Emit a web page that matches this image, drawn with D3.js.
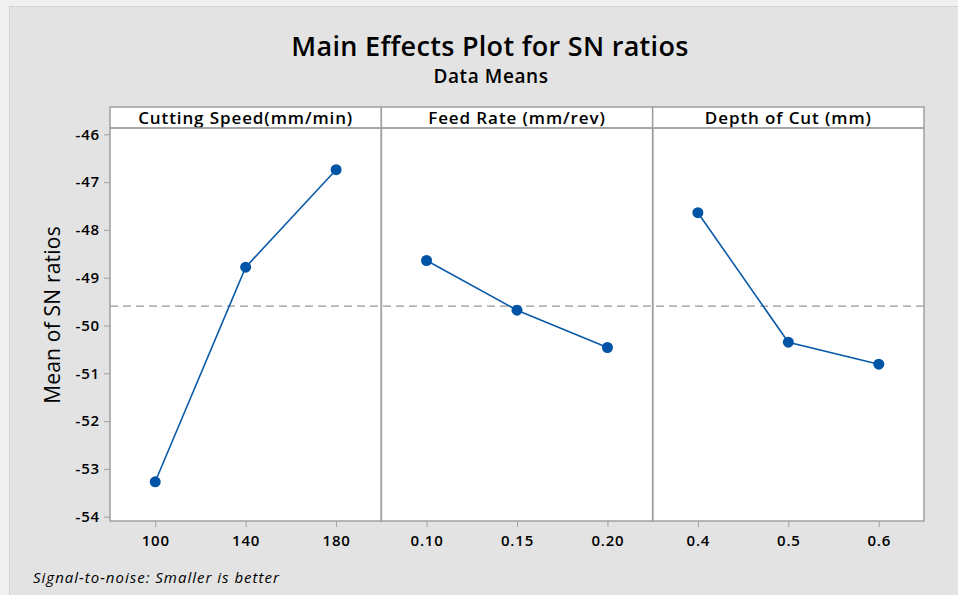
<!DOCTYPE html>
<html>
<head>
<meta charset="utf-8">
<script src="https://cdn.jsdelivr.net/npm/d3@7"></script>
<style>
  body { margin: 0; background: #f0f0f0; }
  text { font-family: "Open Sans", "DejaVu Sans", sans-serif; fill: #000; }
</style>
</head>
<body>
<div id="chart"></div>
<script>
const width = 958;
const height = 595;

// factors and their levels
const factors = ["Cutting Speed(mm/min)", "Feed Rate (mm/rev)", "Depth of Cut (mm)"];
const levels = [
  ["100", "140", "180"],
  ["0.10", "0.15", "0.20"],
  ["0.4", "0.5", "0.6"]
];
// mean SN ratio at each level
const snMeans = [
  [-53.27, -48.78, -46.74],
  [-48.64, -49.68, -50.46],
  [-47.64, -50.35, -50.81]
];
const yTicks = [-54, -53, -52, -51, -50, -49, -48, -47, -46];

const plot = { left: 110, right: 924, headerTop: 107, top: 128, bottom: 521 };
const panelW = (plot.right - plot.left) / factors.length;

const grandMean = d3.mean(snMeans.flat());

var svg = d3.select("#chart").append("svg")
  .attr("width", width)
  .attr("height", height);

// outer gray background
svg.append("rect")
  .attr("x", 9.5).attr("y", 6.5)
  .attr("width", width).attr("height", height)
  .attr("fill", "#e3e3e3")
  .attr("stroke", "#d2d2d2");

var yScale = d3.scaleLinear()
  .domain([-54, -46])
  .range([516.7, 134.3]);

// title
svg.append("text")
  .attr("x", 490).attr("y", 56)
  .attr("text-anchor", "middle")
  .style("font-size", "27px")
  .style("font-weight", 600)
  .style("letter-spacing", "0.3px")
  .text("Main Effects Plot for SN ratios");

svg.append("text")
  .attr("x", 491).attr("y", 83)
  .attr("text-anchor", "middle")
  .style("font-size", "19px")
  .style("font-weight", 600)
  .style("letter-spacing", "0.6px")
  .text("Data Means");

// white plot area
svg.append("rect")
  .attr("x", plot.left).attr("y", plot.headerTop)
  .attr("width", plot.right - plot.left)
  .attr("height", plot.bottom - plot.headerTop)
  .attr("fill", "#fff");

// mean reference line
svg.append("line")
  .attr("x1", plot.left).attr("x2", plot.right)
  .attr("y1", yScale(grandMean)).attr("y2", yScale(grandMean))
  .attr("stroke", "#999")
  .attr("stroke-width", 1.3)
  .attr("stroke-dasharray", "8,5");

var line = d3.line()
  .x(d => d.x)
  .y(d => yScale(d.v));

factors.forEach((f, i) => {
  var x0 = plot.left + i * panelW;
  var xScale = d3.scalePoint()
    .domain(levels[i])
    .range([x0, x0 + panelW])
    .padding(0.5);

  // header
  svg.append("rect")
    .attr("x", x0).attr("y", plot.headerTop)
    .attr("width", panelW).attr("height", plot.top - plot.headerTop)
    .attr("fill", "#fff")
    .attr("stroke", "#a0a0a0")
    .attr("stroke-width", 1.5);
  svg.append("text")
    .attr("x", x0 + panelW / 2).attr("y", plot.headerTop + 17)
    .attr("text-anchor", "middle")
    .style("font-size", "17px")
    .style("font-weight", 600)
    .style("letter-spacing", "0.9px")
    .text(f);

  // panel frame
  svg.append("rect")
    .attr("x", x0).attr("y", plot.top)
    .attr("width", panelW).attr("height", plot.bottom - plot.top)
    .attr("fill", "none")
    .attr("stroke", "#a0a0a0")
    .attr("stroke-width", 1.5);

  var pts = levels[i].map((l, j) => ({ x: xScale(l), v: snMeans[i][j] }));

  svg.append("path")
    .datum(pts)
    .attr("fill", "none")
    .attr("stroke", "#0a5aaa")
    .attr("stroke-width", 1.6)
    .attr("d", line);

  svg.selectAll(".dot" + i)
    .data(pts)
    .enter().append("circle")
    .attr("cx", d => d.x)
    .attr("cy", d => yScale(d.v))
    .attr("r", 5.5)
    .attr("fill", "#0054a6");

  var xAxis = d3.axisBottom(xScale).tickSize(6).tickPadding(5);
  var gx = svg.append("g")
    .attr("transform", "translate(0," + plot.bottom + ")")
    .call(xAxis);
  gx.select(".domain").remove();
  gx.selectAll("line").attr("stroke", "#a0a0a0");
  gx.selectAll("text")
    .style("font-size", "15px")
    .style("font-weight", 600)
    .style("letter-spacing", "0.8px")
    .attr("dy", "0.95em");
});

// y axis
var yAxis = d3.axisLeft(yScale)
  .tickValues(yTicks)
  .tickFormat(d => String(d))
  .tickSize(6).tickPadding(4);
var gy = svg.append("g")
  .attr("transform", "translate(" + plot.left + ",0)")
  .call(yAxis);
gy.select(".domain").remove();
gy.selectAll("line").attr("stroke", "#a0a0a0");
gy.selectAll("text")
  .style("font-size", "15px")
  .style("font-weight", 600)
  .style("letter-spacing", "0.8px");

svg.append("text")
  .attr("transform", "translate(60,315) rotate(-90)")
  .attr("text-anchor", "middle")
  .style("font-size", "21px")
  .style("font-weight", 500)
  .style("letter-spacing", "0.2px")
  .text("Mean of SN ratios");

svg.append("text")
  .attr("x", 33).attr("y", 583)
  .style("font-size", "15px")
  .style("font-style", "italic")
  .style("letter-spacing", "1px")
  .text("Signal-to-noise: Smaller is better");
</script>
</body>
</html>
